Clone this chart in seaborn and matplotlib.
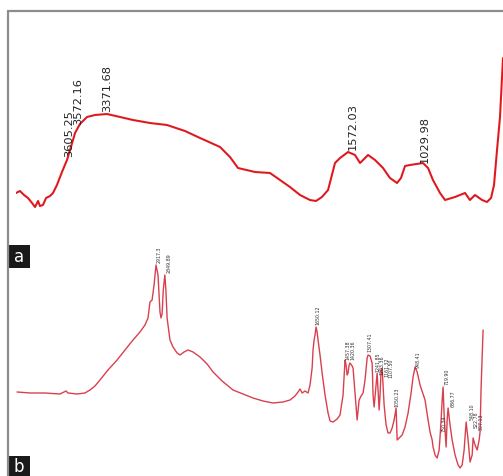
import matplotlib
matplotlib.use("Agg")
import matplotlib.pyplot as plt
import seaborn as sns
import pandas as pd
from matplotlib.lines import Line2D
from matplotlib.patches import Rectangle

# ---------------- data: panel a ----------------
wavenumber_a = [4030, 4001, 3971, 3942, 3912, 3890, 3868, 3854, 3832, 3809, 3780, 3758,
                3729, 3692, 3655, 3626, 3596, 3560, 3508, 3449, 3361, 3265, 3170, 3045,
                2920, 2788, 2677, 2530, 2457, 2398, 2273, 2163, 2089, 2016, 1942, 1869,
                1825, 1781, 1736, 1685, 1648, 1589, 1538, 1501, 1442, 1391, 1332, 1281,
                1229, 1200, 1170, 1134, 1038, 1001, 965, 913, 876, 803, 729, 693, 656,
                604, 568, 538, 516, 494, 472, 450]
transmittance_a = [20.8, 21.6, 20.0, 18.8, 16.8, 15.2, 17.6, 15.6, 16.0, 18.8, 19.6, 20.8,
                   24.0, 29.2, 34.0, 39.2, 44.8, 48.4, 51.2, 52.0, 52.4, 51.2, 50.0, 48.8,
                   48.0, 45.6, 42.8, 39.2, 35.2, 30.8, 29.2, 28.8, 26.0, 23.2, 20.0, 18.0,
                   17.6, 19.2, 22.0, 32.8, 34.8, 37.2, 36.0, 32.8, 36.0, 34.0, 30.8, 26.8,
                   24.8, 26.8, 31.6, 32.0, 32.8, 30.8, 26.0, 20.8, 18.0, 19.2, 20.8, 18.0,
                   20.0, 18.0, 17.2, 18.8, 24.0, 38.0, 51.2, 74.8]
peak_labels_a = ["3605.25", "3572.16", "3371.68", "1572.03", "1029.98"]
peak_pos_a = [3640, 3574, 3361, 1553, 1023]
peak_lev_a = [35.2, 48.0, 53.2, 38.0, 32.8]

# ---------------- data: panel b ----------------
wavenumber_b = [3973, 3875, 3761, 3647, 3601, 3586, 3517, 3457, 3419, 3381, 3343, 3282,
                3213, 3153, 3092, 3039, 3001, 2978, 2963, 2947, 2932, 2917, 2902, 2887,
                2879, 2871, 2862, 2850, 2842, 2833, 2811, 2788, 2757, 2735, 2704, 2674,
                2636, 2583, 2529, 2484, 2415, 2332, 2256, 2180, 2104, 2028, 1952, 1899,
                1861, 1838, 1823, 1807, 1785, 1762, 1747, 1731, 1724, 1716, 1709, 1701,
                1693, 1686, 1671, 1655, 1633, 1610, 1595, 1572, 1541, 1519, 1496, 1481,
                1473, 1465, 1458, 1450, 1443, 1427, 1420, 1405, 1389, 1374, 1359, 1344,
                1329, 1313, 1306, 1291, 1275, 1268, 1260, 1245, 1237, 1230, 1222, 1215,
                1207, 1199, 1192, 1184, 1169, 1154, 1139, 1123, 1108, 1093, 1085, 1070,
                1047, 1025, 1002, 979, 964, 949, 933, 911, 873, 850, 835, 819, 812, 797,
                781, 766, 759, 751, 743, 736, 728, 713, 705, 698, 683, 667, 645, 622,
                607, 591, 576, 561, 546, 531, 515, 508, 493, 477, 462, 455, 447, 439, 432]
transmittance_b = [33.6, 33.2, 33.2, 32.8, 34.0, 33.2, 32.8, 33.2, 34.4, 36.0, 38.4, 42.4,
                   46.4, 50.4, 54.4, 57.6, 60.4, 63.2, 69.6, 70.4, 76.4, 84.4, 80.4, 65.6,
                   63.2, 64.8, 74.4, 80.4, 74.4, 63.2, 54.4, 51.6, 49.2, 48.4, 49.6, 50.4,
                   49.6, 47.6, 44.8, 41.6, 38.0, 34.4, 32.8, 31.2, 30.0, 29.2, 29.6, 30.4,
                   32.0, 33.6, 34.8, 33.2, 34.0, 33.2, 36.4, 43.2, 50.4, 54.4, 56.4, 59.6,
                   57.6, 54.4, 48.4, 41.2, 32.4, 25.2, 22.0, 21.6, 22.8, 24.4, 32.4, 46.4,
                   44.4, 40.4, 41.2, 44.4, 45.2, 44.0, 43.2, 33.2, 22.4, 30.4, 32.0, 33.2,
                   38.4, 47.2, 48.4, 48.0, 45.2, 32.4, 27.6, 36.4, 41.2, 34.4, 26.4, 32.4,
                   42.4, 43.2, 36.4, 28.4, 20.4, 17.2, 17.2, 19.2, 22.4, 27.2, 14.4, 15.2,
                   16.4, 19.6, 25.2, 33.2, 39.6, 43.6, 41.6, 36.4, 30.4, 22.4, 17.6, 14.4,
                   11.6, 8.4, 7.2, 10.4, 15.6, 22.4, 30.4, 35.6, 24.4, 11.6, 22.4, 27.2,
                   20.4, 14.4, 8.4, 4.4, 3.2, 4.4, 10.4, 21.6, 14.4, 5.6, 8.4, 15.2,
                   12.4, 10.4, 14.4, 17.6, 35.6, 48.4, 58.4]
peak_labels_b = ["2917.3", "2849.89", "1650.12", "1457.38", "1420.36", "1307.41",
                 "1241.85", "1203.36", "1161.32", "1107.50", "1050.23", "948.41",
                 "750.34", "719.90", "686.77", "548.10", "522.78", "507.13"]
peak_pos_b = [2894, 2818, 1686, 1462, 1424, 1291, 1233, 1199, 1165, 1131, 1085, 926,
              728, 705, 660, 518, 484, 446]
peak_lev_b = [85.2, 81.2, 60.4, 46.4, 46.4, 49.6, 41.6, 40.4, 39.6, 39.2, 27.6, 43.2,
              17.6, 36.4, 27.6, 22.4, 19.2, 18.4]

panel_letters = ["a", "b"]

# ---------------- figure ----------------
sns.set_style("white")
W, H = 503, 476
fig = plt.figure(figsize=(W / 100, H / 100), dpi=100)
fig.patch.set_facecolor("white")

def fx(px):
    return px / W

def fy(py):
    return 1 - py / H

# panel a axes: x px 16..503, y px 11..245
ax_a = fig.add_axes([fx(16), fy(245), fx(503 - 16), (245 - 11) / H])
df_a = pd.DataFrame({"wn": wavenumber_a, "T": transmittance_a})
sns.lineplot(data=df_a, x="wn", y="T", ax=ax_a, color="#ee1c22", lw=1.5,
             estimator=None, sort=False)
sns.lineplot(data=df_a, x="wn", y="T", ax=ax_a, color="#9a1f1f", lw=0.35,
             estimator=None, sort=False, alpha=0.7)
ax_a.set_xlim(4030, 450)
ax_a.set_ylim(0, 93.6)
ax_a.axis("off")
for lab, xp, yp in zip(peak_labels_a, peak_pos_a, peak_lev_a):
    ax_a.text(xp, yp, lab, rotation=90, ha="center", va="bottom",
              fontsize=8.2, color="#222222")

# panel b axes: x px 13.5..487.3, y px 250..476
ax_b = fig.add_axes([fx(13.5), 0, fx(487.3 - 13.5), (476 - 250) / H])
df_b = pd.DataFrame({"wn": wavenumber_b, "T": transmittance_b})
sns.lineplot(data=df_b, x="wn", y="T", ax=ax_b, color="#d9404e", lw=1.0,
             estimator=None, sort=False)
ax_b.set_xlim(4000, 400)
ax_b.set_ylim(0, 90.4)
ax_b.axis("off")
for lab, xp, yp in zip(peak_labels_b, peak_pos_b, peak_lev_b):
    ax_b.text(xp, yp, lab, rotation=90, ha="center", va="bottom",
              fontsize=3.4, color="#333333")

# outer frame (top and left edges)
fig.add_artist(Line2D([fx(8), fx(503)], [fy(11), fy(11)], color="#8c8c8c", lw=1.6))
fig.add_artist(Line2D([fx(8), fx(8)], [fy(11), fy(476)], color="#8c8c8c", lw=1.6))

# panel letter boxes
for letter, (top, bot) in zip(panel_letters, [(245, 268), (456, 476)]):
    fig.add_artist(Rectangle((fx(8), fy(bot)), fx(22), (bot - top) / H,
                             facecolor="#1a1a1a", edgecolor="none"))
    fig.text(fx(19), fy((top + bot) / 2 + 1), letter, color="white",
             fontsize=12, ha="center", va="center")

fig.savefig("out.png", dpi=100, facecolor="white")
